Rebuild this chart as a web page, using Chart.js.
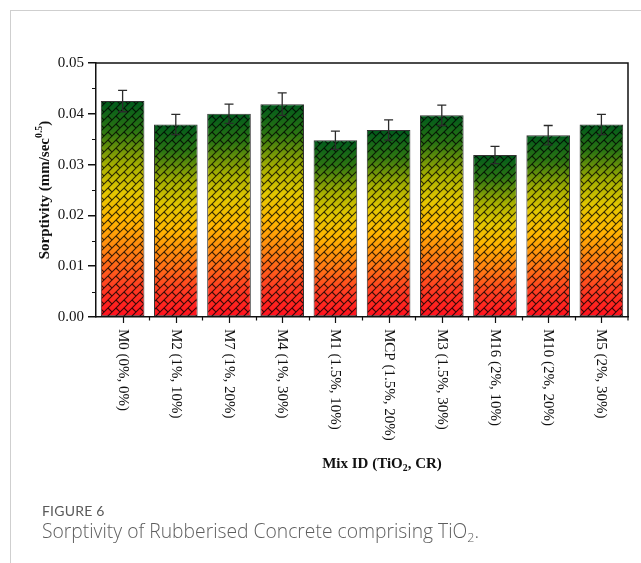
<!DOCTYPE html>
<html>
<head>
<meta charset="utf-8">
<script src="https://cdn.jsdelivr.net/npm/chart.js@4/dist/chart.umd.min.js"></script>
<style>
  html, body { margin: 0; padding: 0; background: #fff; }
  body { width: 641px; height: 563px; position: relative; overflow: hidden; }
  #frame { position: absolute; left: 10px; top: 10px; right: -2px; bottom: -2px;
           border-left: 1px solid #cfcfcf; border-top: 1px solid #cfcfcf; }
  #chart { position: absolute; left: 0; top: 0; }
  #fig { position: absolute; left: 42px; top: 502px; font-family: Lato, "Open Sans", sans-serif;
         font-size: 14px; color: #5a5a5a; letter-spacing: 0.2px; }
  #cap { position: absolute; left: 42px; top: 517px; font-family: "Open Sans", Lato, sans-serif;
         font-size: 19.3px; font-weight: 300; color: #5e5e5e; }
  #cap sub { font-size: 12.5px; vertical-align: -4px; line-height: 0; }
</style>
</head>
<body>
<div id="frame"></div>
<canvas id="chart" width="641" height="563"></canvas>
<div id="fig">FIGURE 6</div>
<div id="cap">Sorptivity of Rubberised Concrete comprising TiO<sub>2</sub>.</div>
<script>
// Mix designations: TiO2 dosage and crumb rubber replacement
const categories = ['M0 (0%, 0%)', 'M2 (1%, 10%)', 'M7 (1%, 20%)', 'M4 (1%, 30%)', 'M1 (1.5%, 10%)',
                    'MCP (1.5%, 20%)', 'M3 (1.5%, 30%)', 'M16 (2%, 10%)', 'M10 (2%, 20%)', 'M5 (2%, 30%)'];
// Sorptivity (mm/sec^0.5) and its standard deviation
const sorptivity = [0.0425, 0.0379, 0.0400, 0.0419, 0.0348, 0.0368, 0.0397, 0.0319, 0.0358, 0.0379];
const sorptivityErr = [0.0021, 0.0020, 0.0019, 0.0022, 0.0018, 0.0020, 0.0020, 0.0017, 0.0019, 0.0020];
// Value axis range and spacing
const yMin = 0, yMax = 0.05, yStep = 0.01, yMinorStep = 0.005;

const serif = '"Liberation Serif", "Times New Roman", serif';

// Green-to-red fill running from each bar's top to its base
const gradientStops = [
  [0.00, '#005a1c'], [0.14, '#2c7512'], [0.30, '#a8b000'], [0.42, '#e2c600'],
  [0.55, '#ffb600'], [0.70, '#ff7f12'], [0.86, '#ff3d22'], [1.00, '#ff0f1e']
];

function makeWeave() {
  const s = 8;
  const c = document.createElement('canvas');
  c.width = s; c.height = s;
  const g = c.getContext('2d');
  g.strokeStyle = 'rgba(0,0,0,0.78)';
  g.lineWidth = 1.1;
  g.beginPath();
  for (const o of [-s, 0, s]) {
    g.moveTo(-1 + o, s + 1); g.lineTo(s + 1 + o, -1);
  }
  for (const [dx, dy] of [[0,0],[-s,0],[0,-s],[-s,-s]]) {
    g.moveTo(4 + dx, 4 + dy); g.lineTo(8 + dx, 8 + dy);
  }
  g.stroke();
  return c;
}
const weaveTile = makeWeave();

function richText(ctx, parts, x, y, align) {
  // parts: [text, 'n' | 'sub' | 'sup']
  const base = ctx.font;
  const size = parseFloat(base.match(/(\d+(\.\d+)?)px/)[1]);
  const small = base.replace(/(\d+(\.\d+)?)px/, (size * 0.65).toFixed(1) + 'px');
  let w = 0;
  for (const [t, k] of parts) { ctx.font = k === 'n' ? base : small; w += ctx.measureText(t).width; }
  let cx = align === 'center' ? x - w / 2 : x;
  ctx.textAlign = 'left';
  for (const [t, k] of parts) {
    ctx.font = k === 'n' ? base : small;
    const dy = k === 'sub' ? size * 0.3 : (k === 'sup' ? -size * 0.38 : 0);
    ctx.fillText(t, cx, y + dy);
    cx += ctx.measureText(t).width;
  }
  ctx.font = base;
}

const decor = {
  id: 'decor',
  afterDatasetsDraw(chart) {
    const { ctx, chartArea: a, scales: { x, y } } = chart;
    const meta = chart.getDatasetMeta(0);
    const pat = ctx.createPattern(weaveTile, 'repeat');
    // weave texture over each bar
    meta.data.forEach(bar => {
      const p = bar.getProps(['x', 'y', 'base', 'width'], true);
      ctx.save();
      ctx.beginPath();
      ctx.rect(p.x - p.width / 2 + 1, p.y + 1, p.width - 2, p.base - p.y - 1);
      ctx.clip();
      ctx.fillStyle = pat;
      ctx.fillRect(p.x - p.width / 2, p.y, p.width, p.base - p.y);
      ctx.restore();
    });
    // error bars
    ctx.save();
    ctx.strokeStyle = '#2b2b2b';
    ctx.lineWidth = 1.3;
    sorptivity.forEach((v, i) => {
      const px = x.getPixelForValue(i);
      const hi = y.getPixelForValue(v + sorptivityErr[i]);
      const lo = y.getPixelForValue(v - sorptivityErr[i]);
      ctx.beginPath();
      ctx.moveTo(px, hi); ctx.lineTo(px, lo);
      ctx.moveTo(px - 4.5, hi); ctx.lineTo(px + 4.5, hi);
      ctx.moveTo(px - 4.5, lo); ctx.lineTo(px + 4.5, lo);
      ctx.stroke();
    });
    ctx.restore();
  },
  afterDraw(chart) {
    const { ctx, chartArea: a, scales: { x, y } } = chart;
    ctx.save();
    ctx.strokeStyle = '#111';
    ctx.lineWidth = 1.5;
    // frame on top and right
    ctx.beginPath();
    ctx.moveTo(a.left, a.top); ctx.lineTo(a.right, a.top); ctx.lineTo(a.right, a.bottom);
    ctx.stroke();
    // minor ticks on value axis
    ctx.lineWidth = 1.2;
    ctx.beginPath();
    for (let v = yMin + yMinorStep; v < yMax; v += yStep) {
      const py = Math.round(y.getPixelForValue(v)) + 0.5;
      ctx.moveTo(a.left - 4, py); ctx.lineTo(a.left, py);
    }
    // category ticks: centres (major) and boundaries (minor)
    categories.forEach((c, i) => {
      const px = Math.round(x.getPixelForValue(i)) + 0.5;
      ctx.moveTo(px, a.bottom); ctx.lineTo(px, a.bottom + 6);
      if (i > 0) {
        const bx = Math.round((x.getPixelForValue(i - 1) + x.getPixelForValue(i)) / 2) + 0.5;
        ctx.moveTo(bx, a.bottom); ctx.lineTo(bx, a.bottom + 3.5);
      }
    });
    ctx.moveTo(a.right, a.bottom); ctx.lineTo(a.right, a.bottom + 3.5);
    ctx.stroke();
    // category labels, reading downward
    ctx.fillStyle = '#111';
    ctx.font = '15px ' + serif;
    ctx.textBaseline = 'middle';
    ctx.textAlign = 'left';
    categories.forEach((c, i) => {
      const px = x.getPixelForValue(i);
      ctx.save();
      ctx.translate(px, a.bottom + 12);
      ctx.rotate(Math.PI / 2);
      ctx.fillText(c, 0, 0);
      ctx.restore();
    });
    // axis titles
    ctx.font = 'bold 15px ' + serif;
    ctx.textBaseline = 'middle';
    richText(ctx, [['Mix ID (TiO', 'n'], ['2', 'sub'], [', CR)', 'n']], 382, 464, 'center');
    ctx.save();
    ctx.translate(45, (a.top + a.bottom) / 2);
    ctx.rotate(-Math.PI / 2);
    richText(ctx, [['Sorptivity (mm/sec', 'n'], ['0.5', 'sup'], [')', 'n']], 0, 0, 'center');
    ctx.restore();
    ctx.restore();
  }
};

new Chart(document.getElementById('chart'), {
  type: 'bar',
  data: {
    labels: categories,
    datasets: [{
      data: sorptivity,
      backgroundColor(c) {
        const { chart } = c;
        const { ctx, chartArea, scales } = chart;
        if (!chartArea || !scales.y) return '#e2c600';
        const top = scales.y.getPixelForValue(sorptivity[c.dataIndex]);
        const bot = scales.y.getPixelForValue(0);
        const g = ctx.createLinearGradient(0, top, 0, bot);
        gradientStops.forEach(([o, col]) => g.addColorStop(o, col));
        return g;
      },
      borderColor: '#333',
      borderWidth: 1,
      borderSkipped: false,
      categoryPercentage: 1,
      barPercentage: 0.82
    }]
  },
  options: {
    responsive: false,
    animation: false,
    devicePixelRatio: 1,
    layout: { padding: { left: 0, top: 63, right: 13, bottom: 146 } },
    plugins: { legend: { display: false }, tooltip: { enabled: false }, title: { display: false } },
    scales: {
      x: {
        grid: { display: false },
        border: { color: '#111', width: 1.5 },
        ticks: { display: false },
        afterFit(s) { s.height = 100; }
      },
      y: {
        min: yMin, max: yMax,
        grid: { drawOnChartArea: false, tickLength: 8, color: '#111', lineWidth: 1.5 },
        border: { color: '#111', width: 1.5 },
        ticks: {
          stepSize: yStep, padding: 4, color: '#111',
          font: { family: serif, size: 15 },
          callback: v => v.toFixed(2)
        },
        afterFit(s) { s.width = 96; }
      }
    }
  },
  plugins: [decor]
});
</script>
</body>
</html>
